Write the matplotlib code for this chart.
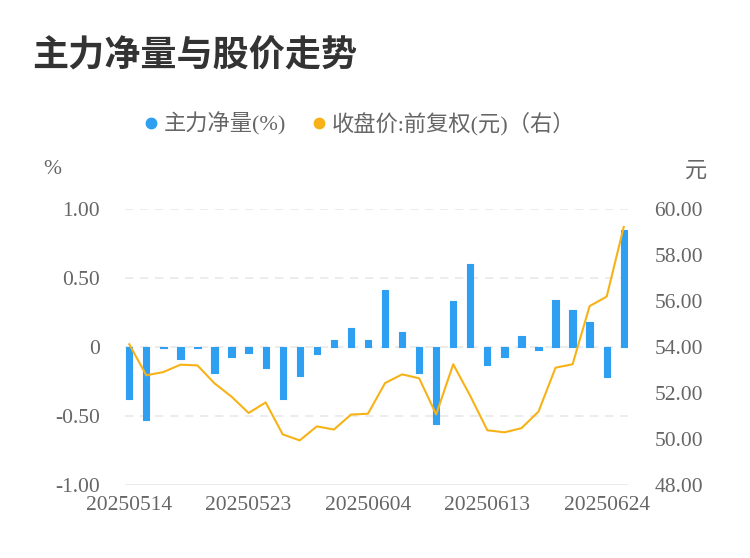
import matplotlib
matplotlib.use('Agg')
import matplotlib.pyplot as plt
from matplotlib.lines import Line2D

# Data
dates = ['20250514', '20250515', '20250516', '20250519', '20250520', '20250521',
         '20250522', '20250523', '20250526', '20250527', '20250528', '20250529',
         '20250530', '20250603', '20250604', '20250605', '20250606', '20250609',
         '20250610', '20250611', '20250612', '20250613', '20250616', '20250617',
         '20250618', '20250619', '20250620', '20250623', '20250624', '20250625']
net_flow = [-0.38, -0.53, -0.01, -0.09, -0.01, -0.19, -0.07, -0.04, -0.15, -0.38,
            -0.21, -0.05, 0.05, 0.14, 0.05, 0.41, 0.11, -0.19, -0.56, 0.33,
            0.60, -0.13, -0.07, 0.08, -0.02, 0.34, 0.27, 0.18, -0.22, 0.85]
close_price = [54.12, 52.77, 52.91, 53.23, 53.20, 52.42, 51.84, 51.13, 51.59, 50.20,
               49.94, 50.55, 50.41, 51.06, 51.10, 52.43, 52.81, 52.64, 51.07, 53.25,
               51.87, 50.38, 50.29, 50.47, 51.19, 53.10, 53.25, 55.78, 56.19, 59.22]
left_ticks = [-1.0, -0.5, 0.0, 0.5, 1.0]
left_labels = ['-1.00', '-0.50', '0', '0.50', '1.00']
right_ticks = [48, 50, 52, 54, 56, 58, 60]
right_labels = ['48.00', '50.00', '52.00', '54.00', '56.00', '58.00', '60.00']
xtick_idx = [0, 7, 14, 21, 28]

BAR_COLOR = '#2f9ff2'
LINE_COLOR = '#f7b217'
TEXT_COLOR = '#666666'
GRID_COLOR = '#e9e9e9'
num_font = ['Liberation Serif', 'Noto Sans CJK SC']
cjk_font = ['Noto Sans CJK SC', 'DejaVu Sans']

fig = plt.figure(figsize=(7.5, 5.58), dpi=100)
ax = fig.add_axes([125 / 750, 1 - 485 / 558, 503 / 750, 276 / 558])

x = list(range(len(dates)))
ax.bar(x, net_flow, width=0.37, color=BAR_COLOR, edgecolor=BAR_COLOR,
       linewidth=0.8, joinstyle='round', zorder=2)

ax.set_xlim(-0.25, len(dates) - 0.75)
ax.set_ylim(-1, 1)
ax.set_yticks(left_ticks)
ax.set_yticklabels(left_labels)
for y in left_ticks[1:]:
    ax.axhline(y, color=GRID_COLOR, linewidth=1.2, linestyle=(0, (5, 4)), zorder=1)
ax.axhline(-1, color=GRID_COLOR, linewidth=2, zorder=1)

ax.set_xticks(xtick_idx)
ax.set_xticklabels([dates[i] for i in xtick_idx])

for s in ax.spines.values():
    s.set_visible(False)
ax.tick_params(length=0, colors=TEXT_COLOR, labelsize=15.5)
ax.tick_params(axis='y', pad=18)
ax.tick_params(axis='x', pad=8)
for lab in ax.get_xticklabels() + ax.get_yticklabels():
    lab.set_family(num_font)

# price line on the right axis
ax2 = ax.twinx()
ax2.plot(x, close_price, color=LINE_COLOR, linewidth=1.5, zorder=3)
ax2.set_ylim(48, 60)
ax2.set_yticks(right_ticks)
ax2.set_yticklabels(right_labels)
for s in ax2.spines.values():
    s.set_visible(False)
ax2.tick_params(length=0, colors=TEXT_COLOR, labelsize=15.5, pad=19)
for lab in ax2.get_yticklabels():
    lab.set_family(num_font)

# axis unit labels
fig.text(52 / 750, 1 - 170 / 558, '%', family=num_font, fontsize=15.5,
         color=TEXT_COLOR, ha='center', va='center')
fig.text(696 / 750, 1 - 170 / 558, '元', family=cjk_font, fontsize=16,
         color=TEXT_COLOR, ha='center', va='center')

# title
fig.text(32 / 750, 1 - 56 / 558, '主力净量与股价走势', family=cjk_font,
         fontsize=26, fontweight='bold', color='#333333', ha='left', va='center')

# legend
handles = [Line2D([], [], marker='o', linestyle='', color=BAR_COLOR, markersize=7.5),
           Line2D([], [], marker='o', linestyle='', color=LINE_COLOR, markersize=7.5)]
leg = fig.legend(handles, ['主力净量(%)', '收盘价:前复权(元)（右）'],
                 loc='center', bbox_to_anchor=(358 / 750, 1 - 124 / 558), ncol=2,
                 frameon=False, handletextpad=0.15, columnspacing=1.0,
                 handlelength=0.9, borderaxespad=0, borderpad=0,
                 prop={'family': num_font, 'size': 16})
for t in leg.get_texts():
    t.set_color(TEXT_COLOR)

fig.savefig('out.png', dpi=100)
